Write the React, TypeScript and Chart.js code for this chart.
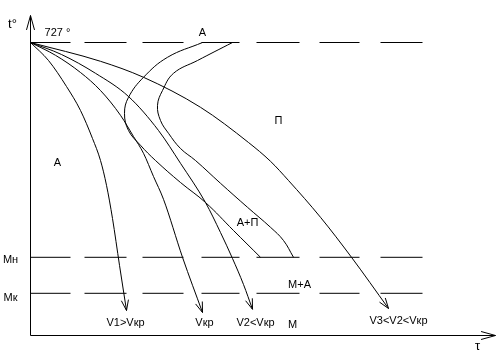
import { useEffect, useRef } from "react";
import { Chart, registerables } from "chart.js";

Chart.register(...registerables);

// Scale ranges (τ – time, arbitrary units; t – temperature, °C)
const TAU_MIN = 0;
const TAU_MAX = 465;
const T_MIN = -5.5;
const T_MAX = 794.5;

// Critical temperatures (dashed isotherms)
const A1_TEMP = 727;
const MN_TEMP = 190;
const MK_TEMP = 100;
const ISOTHERM_END_TAU = 392;

// Cooling curve V1 > Vкр
const V1_TAU = [0, 18, 36, 50, 62, 70, 76, 82, 89, 96];
const V1_T = [727, 682, 617, 557, 487, 432, 370, 287, 170, 57];

// Critical cooling rate Vкр
const VKR_TAU = [0, 25, 50, 70, 90, 103, 113, 123, 133, 152, 172];
const VKR_T = [727, 695, 652, 607, 545, 492, 450, 392, 335, 190, 52];

// V2 < Vкр
const V2_TAU = [0, 31, 65, 98, 128, 150, 175, 190, 202, 213, 222];
const V2_T = [727, 697, 650, 592, 507, 425, 327, 252, 187, 122, 60];

// V3 < V2 < Vкр
const V3_TAU = [0, 70, 113, 170, 218, 240, 258, 290, 321, 358];
const V3_T = [727, 680, 640, 565, 477, 430, 382, 290, 190, 62];

// C-curve: start of austenite decomposition
const START_TAU = [172, 137, 113, 98, 94, 98, 110, 125, 150, 175, 203, 230];
const START_T = [727, 690, 640, 590, 550, 507, 470, 432, 377, 327, 257, 190];

// C-curve: end of austenite decomposition
const END_TAU = [202, 167, 143, 132, 127, 130, 138, 150, 165, 190, 217, 240, 253, 263];
const END_T = [727, 682, 650, 607, 570, 532, 500, 462, 432, 375, 315, 265, 232, 190];

// Text labels
const LABEL_TEXTS = ["t°", "727 °", "А", "А", "П", "А+П", "Мн", "Мк", "М+А", "V1>Vкр", "Vкр", "V2<Vкр", "М", "V3<V2<Vкр", "τ"];
const LABEL_TAU = [-18, 27, 172, 27, 248, 217, -20, -20, 269, 95, 174, 225, 262, 368, 447];
const LABEL_T = [772, 752, 752, 427, 532, 277, 184, 88, 120, 27, 27, 27, 22, 32, -33];

const DASH = [40, 14, 42, 16, 41, 18, 38, 17, 43, 20, 40, 21, 42, 60];

const zip = (xs: number[], ys: number[]) => xs.map((x, i) => ({ x, y: ys[i] }));

const arrowPlugin = {
  id: "arrowHeads",
  afterDatasetsDraw(chart: any) {
    const ctx = chart.ctx;
    chart.data.datasets.forEach((ds: any, i: number) => {
      if (!ds.arrow) return;
      const pts = chart.getDatasetMeta(i).data;
      const n = pts.length;
      const p1 = pts[n - 1];
      const p0 = pts[n - 2];
      const ang = Math.atan2(p1.y - p0.y, p1.x - p0.x);
      ctx.save();
      ctx.strokeStyle = "#000";
      ctx.lineWidth = 1;
      ctx.beginPath();
      for (const s of [-1, 1]) {
        const a = ang + Math.PI + s * ds.arrow.spread;
        ctx.moveTo(p1.x, p1.y);
        ctx.lineTo(p1.x + ds.arrow.len * Math.cos(a), p1.y + ds.arrow.len * Math.sin(a));
      }
      ctx.stroke();
      ctx.restore();
    });
  },
};

const labelPlugin = {
  id: "textLabels",
  afterDraw(chart: any) {
    const ctx = chart.ctx;
    const xs = chart.scales.x;
    const ys = chart.scales.y;
    ctx.save();
    ctx.fillStyle = "#000";
    ctx.textAlign = "center";
    ctx.textBaseline = "middle";
    LABEL_TEXTS.forEach((txt, i) => {
      const big = txt === "t°" || txt === "τ";
      ctx.font = (big ? "13px" : "11px") + " 'Liberation Sans', Arial, sans-serif";
      ctx.fillText(txt, xs.getPixelForValue(LABEL_TAU[i]), ys.getPixelForValue(LABEL_T[i]));
    });
    ctx.restore();
  },
};

export default function App() {
  const ref = useRef<HTMLCanvasElement | null>(null);

  useEffect(() => {
    if (!ref.current) return;
    const line = (data: any[], extra: any = {}) => ({
      data,
      showLine: true,
      borderColor: "#000",
      borderWidth: 1,
      pointRadius: 0,
      fill: false,
      clip: false,
      tension: 0,
      ...extra,
    });
    const curveArrow = { len: 11, spread: 0.33 };
    const axisArrow = { len: 15, spread: 0.27 };
    const smooth = { cubicInterpolationMode: "monotone", arrow: curveArrow };

    const datasets = [
      // axes
      line(zip([0, 0], [T_MIN, T_MAX]), { arrow: axisArrow }),
      line(zip([0, TAU_MAX], [T_MIN, T_MIN]), { arrow: axisArrow }),
      // isotherms
      line(zip([0, ISOTHERM_END_TAU], [A1_TEMP, A1_TEMP]), { borderDash: DASH }),
      line(zip([0, ISOTHERM_END_TAU], [MN_TEMP, MN_TEMP]), { borderDash: DASH }),
      line(zip([0, ISOTHERM_END_TAU], [MK_TEMP, MK_TEMP]), { borderDash: DASH }),
      // C-curves
      line(zip(START_TAU, START_T), { tension: 0.4 }),
      line(zip(END_TAU, END_T), { tension: 0.4 }),
      // cooling curves
      line(zip(V1_TAU, V1_T), smooth),
      line(zip(VKR_TAU, VKR_T), smooth),
      line(zip(V2_TAU, V2_T), smooth),
      line(zip(V3_TAU, V3_T), smooth),
    ];

    const chart = new Chart(ref.current, {
      type: "scatter",
      data: { datasets } as any,
      options: {
        responsive: false,
        devicePixelRatio: 1,
        animation: false,
        events: [],
        layout: { padding: { left: 30.5, top: 15.5, right: 2.5, bottom: 21.5 } },
        plugins: { legend: { display: false }, tooltip: { enabled: false } },
        scales: {
          x: { type: "linear", min: TAU_MIN, max: TAU_MAX, display: false },
          y: { type: "linear", min: T_MIN, max: T_MAX, display: false },
        },
      } as any,
      plugins: [arrowPlugin, labelPlugin],
    });
    return () => chart.destroy();
  }, []);

  return (
    <div style={{ position: "absolute", left: 0, top: 0, width: 498, height: 357, background: "#fff" }}>
      <canvas ref={ref} width={498} height={357} style={{ display: "block" }} />
    </div>
  );
}
